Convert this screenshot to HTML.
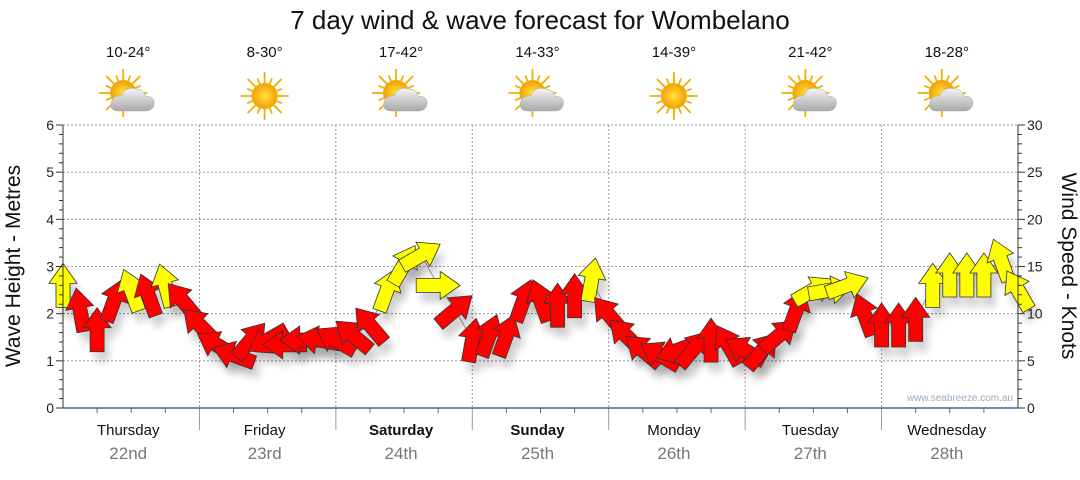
<!DOCTYPE html>
<html><head><meta charset="utf-8"><style>
body{margin:0;background:#fff;}
svg text{font-family:"Liberation Sans","DejaVu Sans",sans-serif;}
</style></head><body>
<svg id="chart" width="1080" height="475" xmlns="http://www.w3.org/2000/svg">
<defs>
<filter id="sh" x="-50%" y="-50%" width="200%" height="200%"><feGaussianBlur stdDeviation="4"/></filter>
<radialGradient id="sun" cx="50%" cy="50%" r="50%"><stop offset="0" stop-color="#ffe040"/><stop offset="1" stop-color="#f0a000"/></radialGradient>
<linearGradient id="cloud" x1="0" y1="0" x2="0" y2="1"><stop offset="0" stop-color="#f4f4f4"/><stop offset="1" stop-color="#a8a8a8"/></linearGradient>
</defs>
<text x="540" y="29" font-size="26" text-anchor="middle" fill="#111">7 day wind &amp; wave forecast for Wombelano</text>
<g id="grid"></g><g id="shadows"></g><g id="arrows"></g><g id="axes"></g><g id="days"></g>
<text x="20" y="266" font-size="21" text-anchor="middle" transform="rotate(-90 20 266)" fill="#111">Wave Height - Metres</text>
<text x="1062" y="266" font-size="21" text-anchor="middle" transform="rotate(90 1062 266)" fill="#111">Wind Speed - Knots</text>
<text x="1013" y="401" font-size="10" text-anchor="end" fill="#9ab">www.seabreeze.com.au</text>
</svg>
<script>
const dayNames=["Thursday","Friday","Saturday","Sunday","Monday","Tuesday","Wednesday"];
const dayDates=["22nd","23rd","24th","25th","26th","27th","28th"];
const temps=["10-24°","8-30°","17-42°","14-33°","14-39°","21-42°","18-28°"];
const cloudy=[1,0,1,1,0,1,1];
const boldDays=[0,0,1,1,0,0,0];
const waveTicks=[0,1,2,3,4,5,6];
const windTicks=[0,5,10,15,20,25,30];
const hours=[0,3,6,9,12,15,18,21,24,27,30,33,36,39,42,45,48,51,54,57,60,63,66,69,72,75,78,81,84,87,90,93,96,99,102,105,108,111,114,117,120,123,126,129,132,135,138,141,144,147,150,153,156,159,162,165,168];
const windSpeed=[13.0,10.4,8.3,11.4,12.5,12.0,13.0,11.4,8.8,6.7,5.6,7.2,7.2,6.7,7.2,7.2,7.2,7.7,8.8,12.5,15.2,16.2,13.0,10.4,7.2,7.7,7.7,11.4,11.4,10.9,11.9,13.6,9.9,7.7,6.1,5.6,6.1,6.3,7.2,6.7,6.1,6.1,7.7,10.4,12.5,12.5,13.0,9.9,8.8,8.8,9.4,13.0,14.1,14.1,14.1,15.7,12.5];
const windDir=[0,-10,0,20,-20,-20,-15,-40,-45,-60,-70,40,-120,-90,-90,-80,-60,-50,-40,20,30,60,90,50,10,20,20,20,-20,0,0,10,-40,-45,-50,-60,-110,40,0,-30,-60,40,50,20,60,80,70,-20,0,0,0,0,0,0,0,-20,-30];
const NS="http://www.w3.org/2000/svg";
const X0=63,X1=1018,Y0=408,Y1=125;
const xs=h=>X0+(X1-X0)*h/168;
const yw=v=>Y0-(Y0-Y1)*v/6;
const yk=v=>Y0-(Y0-Y1)*v/30;
function mk(tag,attrs,parent){const e=document.createElementNS(NS,tag);for(const k in attrs)e.setAttribute(k,attrs[k]);parent.appendChild(e);return e;}
const grid=document.getElementById('grid'),axes=document.getElementById('axes'),days=document.getElementById('days');
waveTicks.forEach(t=>{if(t>0){const l=mk('line',{x1:X0,x2:X1,y1:yw(t),y2:yw(t),stroke:'#999','stroke-dasharray':'2,2'},grid);}
 const tx=mk('text',{x:X0-9,y:yw(t)+5,'font-size':14,'text-anchor':'end',fill:'#222'},axes);tx.textContent=t;});
windTicks.forEach(t=>{const tx=mk('text',{x:X1+9,y:yk(t)+5,'font-size':14,fill:'#222'},axes);tx.textContent=t;});
for(let i=0;i<=30;i++){const y=Y0-(Y0-Y1)*i/30;const L=i%5==0?7:4;
 mk('line',{x1:X0-L,x2:X0,y1:y,y2:y,stroke:'#333'},axes);mk('line',{x1:X1,x2:X1+L,y1:y,y2:y,stroke:'#333'},axes);}
for(let d=0;d<7;d++){
 const xa=xs(d*24),xc=xs(d*24+12);
 if(d>0){const l=mk('line',{x1:xa,x2:xa,y1:Y1,y2:Y0,stroke:'#999','stroke-dasharray':'2,2'},grid);
  mk('line',{x1:xa,x2:xa,y1:Y0,y2:Y0+22,stroke:'#999'},axes);}
 for(let q=1;q<4;q++){const xq=xs(d*24+q*6);mk('line',{x1:xq,x2:xq,y1:Y0,y2:Y0+5,stroke:'#666'},axes);}
 const dn=mk('text',{x:xc-3,y:435,'font-size':15,'text-anchor':'middle',fill:'#111','font-weight':boldDays[d]?'bold':'normal'},days);dn.textContent=dayNames[d];
 const dd=mk('text',{x:xc-3,y:459,'font-size':17,'text-anchor':'middle',fill:'#777'},days);dd.textContent=dayDates[d];
 const tp=mk('text',{x:xc-3,y:57,'font-size':15,'text-anchor':'middle',fill:'#111'},days);tp.textContent=temps[d];
 const ic=mk('g',{transform:`translate(${xc-3},96)`},days);
 const sx=cloudy[d]?-5:0,sy=cloudy[d]?-3:0;
 for(let r=0;r<16;r++){const a=r*Math.PI/8,l1=13,l2=r%2?19:24;mk('line',{x1:sx+Math.cos(a)*l1,y1:sy+Math.sin(a)*l1,x2:sx+Math.cos(a)*l2,y2:sy+Math.sin(a)*l2,stroke:'#f0b000','stroke-width':1.8},ic);}
 mk('circle',{cx:sx,cy:sy,r:13,fill:'url(#sun)'},ic);
 if(cloudy[d])mk('path',{d:'M-10 15 Q-19 15 -17 6 Q-15 -1 -7 0 Q-3 -10 8 -7 Q16 -7 17 0 Q27 0 26 8 Q25 15 17 15 Z',fill:'url(#cloud)',stroke:'#aaa','stroke-width':0.5},ic);
}
mk('line',{x1:X0,x2:X0,y1:Y1,y2:Y0,stroke:'#333'},axes);
mk('line',{x1:X1,x2:X1,y1:Y1,y2:Y0,stroke:'#333'},axes);
mk('line',{x1:X0,x2:X1,y1:Y0,y2:Y0,stroke:'#3a6a9a','stroke-width':1.5},axes);
const sh=document.getElementById('shadows'),ar=document.getElementById('arrows');
const shape='M-7 22 L-7 -2 L-14 -2 L0 -22 L14 -2 L7 -2 L7 22 Z';
mk('polyline',{points:hours.map((h,i)=>xs(h)+','+yk(windSpeed[i])).join(' '),fill:'none',stroke:'#999','stroke-width':1},sh);
hours.forEach((h,i)=>{
 const x=xs(h),y=yk(windSpeed[i]);
 const s=mk('path',{d:shape,transform:`translate(${x+5},${y+10}) rotate(${windDir[i]})`,fill:'#000',opacity:0.18,filter:'url(#sh)'},sh);
 
 const a=mk('path',{d:shape,transform:`translate(${x},${y}) rotate(${windDir[i]})`,fill:windSpeed[i]>=12.3?'#ffff00':'#ff0000',stroke:'#333','stroke-width':0.8},ar);
 
});
</script>
</body></html>
